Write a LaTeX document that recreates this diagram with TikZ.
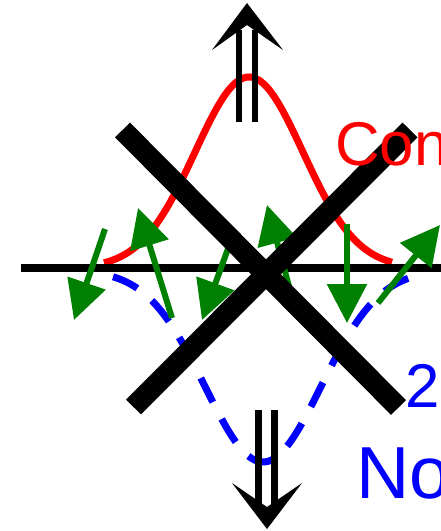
\documentclass[tikz,border=0pt]{standalone}
\usepackage{fontspec}
\setmainfont{Liberation Sans}
\usetikzlibrary{arrows.meta}
\definecolor{rgreen}{RGB}{0,128,0}
\begin{document}
\begin{tikzpicture}[x=1bp,y=-1bp,
  gauss/.style={line width=7bp},
  garrow/.style={draw=rgreen, line width=6bp, -{Triangle[length=39bp,width=39bp]}},
  xbar/.style={line width=21bp},
  dline/.style={line width=6.7bp},
  lbl/.style={inner sep=0, anchor=base west, font=\fontsize{62}{62}\selectfont}]
\useasboundingbox (0,0) rectangle (441,531);
\clip (0,0) rectangle (441,531);
% curves
\draw[red, gauss, domain=104:392, samples=90, smooth]
  plot (\x, {268-191*exp(-0.5*((\x-249)/54)^2)});
\draw[blue, gauss, dash pattern=on 27bp off 19bp, domain=113:413, samples=90, smooth]
  plot (\x, {270+192*exp(-0.5*((\x-263)/58)^2)});
% axis
\coordinate (axL) at (21,268);
\coordinate (axR) at (441,268);
\draw[line width=8bp] (axL) -- (axR);
% green arrows
\coordinate (g1a) at (105,229);  \coordinate (g1b) at (74,320);
\coordinate (g2a) at (172,318);  \coordinate (g2b) at (138,208);
\coordinate (g3a) at (233,235);  \coordinate (g3b) at (202,320);
\coordinate (g4a) at (290,290);  \coordinate (g4b) at (267,205);
\coordinate (g5a) at (347,224);  \coordinate (g5b) at (347,323);
\coordinate (g6a) at (378,303);  \coordinate (g6b) at (440,225);
\draw[garrow] (g1a) -- (g1b);
\draw[garrow] (g2a) -- (g2b);
\draw[garrow] (g3a) -- (g3b);
\draw[garrow] (g4a) -- (g4b);
\draw[garrow] (g5a) -- (g5b);
\draw[garrow] (g6a) -- (g6b);
% big X
\coordinate (x1a) at (122.5,130); \coordinate (x1b) at (398.5,407.5);
\coordinate (x2a) at (410,130);   \coordinate (x2b) at (133.5,407);
\draw[xbar] (x1a) -- (x1b);
\draw[xbar] (x2a) -- (x2b);
% up double arrow
\draw[dline] (239,122) -- (239,30);
\draw[dline] (255,122) -- (255,30);
\fill (247,3) -- (283,50) -- (247,25) -- (212,50) -- cycle;
% down double arrow
\draw[dline] (258.5,410) -- (258.5,506);
\draw[dline] (274.5,410) -- (274.5,506);
\fill (267,529) -- (302,483) -- (267,507) -- (232,483) -- cycle;
% labels
\node[lbl, red] (con) at (335,166) {Con};
\node[lbl, blue] (two) at (405,407) {2};
\node[lbl, blue, font=\fontsize{74}{74}\selectfont] (no) at (356,498) {No};
\end{tikzpicture}
\end{document}
